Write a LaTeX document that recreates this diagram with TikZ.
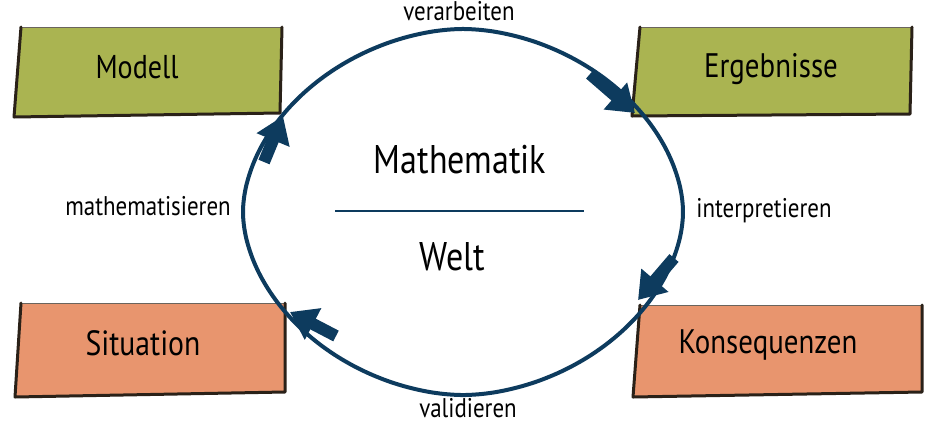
\documentclass[tikz,border=0pt]{standalone}
\usepackage{fontspec}
\setmainfont{PT Sans}[FakeStretch=0.85]
\usetikzlibrary{arrows.meta}
\definecolor{navy}{HTML}{0D3B5E}
\definecolor{boxgreen}{HTML}{AAB451}
\definecolor{boxorange}{HTML}{E8956E}
\definecolor{edge}{HTML}{2A2118}
\tikzset{
  bigtext/.style={font=\fontsize{40}{44}\selectfont, inner sep=0pt, anchor=base},
  boxtext/.style={font=\fontsize{34}{38}\selectfont, inner sep=0pt, anchor=base},
  labeltext/.style={font=\fontsize{27}{30}\selectfont, inner sep=0pt, anchor=base},
  cycleline/.style={draw=navy, line width=4pt},
  flowarrow/.style={navy, line width=12pt, -{Triangle[length=26pt, width=34pt]}},
  sideedge/.style={draw=edge, line width=3pt, line cap=round, line join=round},
  topedge/.style={draw=edge!70, line width=1pt},
}
\begin{document}
\begin{tikzpicture}[x=1pt, y=-1pt]
\useasboundingbox (0,0) rectangle (932,424);
% boxes
\newcommand{\skbox}[5]{%
  \fill[#1] #2 -- #3 -- #4 -- #5 -- cycle;
  \draw[topedge] #2 -- #3;
  \draw[sideedge] #2 -- #5 -- #4 -- #3;
}
\skbox{boxgreen}{(21,27)}{(282,27)}{(280,113)}{(14,117)}
\skbox{boxgreen}{(640,27)}{(912,27)}{(910,114)}{(632,116)}
\skbox{boxorange}{(21,303)}{(285,303)}{(285,392)}{(15,397)}
\skbox{boxorange}{(640,305)}{(922,305)}{(922,392)}{(633,397)}
% cycle (slightly pinched ellipse)
\draw[cycleline] plot[smooth cycle, domain=1:359, samples=180, variable=\t]
  ({463 + 220*sign(cos(\t))*abs(cos(\t))^(1.08)},
   {212 + 183*sign(sin(\t))*abs(sin(\t))^(1.08)});
% centre
\coordinate (ls) at (335,211);
\coordinate (le) at (584,211);
\draw[navy, line width=1.5pt] (ls) -- (le);
\node[bigtext] (math) at (460,173) {Mathematik};
\node[bigtext] (welt) at (452,270) {Welt};
% box labels
\node[boxtext, font=\fontsize{33}{37}\selectfont] (modell) at (137,78) {Modell};
\node[boxtext] (erg) at (771,77) {Ergebnisse};
\node[boxtext, font=\fontsize{35}{39}\selectfont] (sit) at (143,355) {Situation};
\node[boxtext] (kons) at (768,353) {Konsequenzen};
% edge labels
\node[labeltext] (verarb) at (459,20) {verarbeiten};
\node[labeltext] (interp) at (764,217) {interpretieren};
\node[labeltext] (valid) at (468,417) {validieren};
\node[labeltext] (mathem) at (148,215) {mathematisieren};
% arrows
\coordinate (a1s) at (590,74);  \coordinate (a1e) at (635,113);
\coordinate (a2s) at (674,258); \coordinate (a2e) at (638,300);
\coordinate (a3s) at (336,336); \coordinate (a3e) at (290,312);
\coordinate (a4s) at (264,162); \coordinate (a4e) at (283,116);
\draw[flowarrow] (a1s) -- (a1e);
\draw[flowarrow] (a2s) -- (a2e);
\draw[flowarrow] (a3s) -- (a3e);
\draw[flowarrow] (a4s) -- (a4e);
\end{tikzpicture}
\end{document}
